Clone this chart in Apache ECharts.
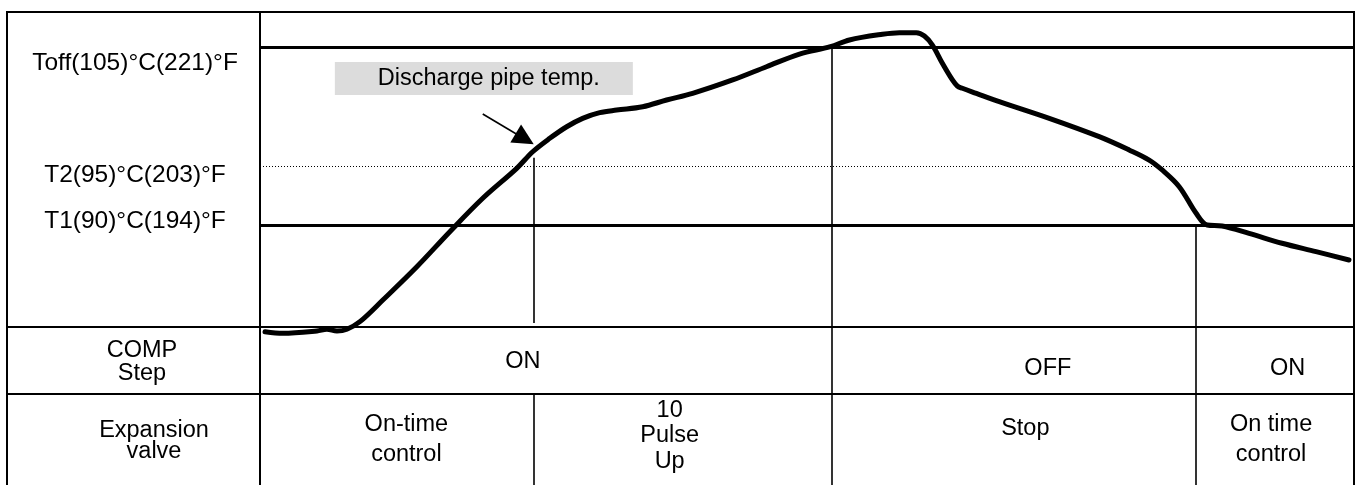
<!DOCTYPE html>
<html>
<head>
<meta charset="utf-8">
<script src="https://cdn.jsdelivr.net/npm/echarts@6/dist/echarts.min.js"></script>
<style>
  html, body { margin: 0; padding: 0; background: #fff; }
  #chart { width: 1358px; height: 485px; }
</style>
</head>
<body>
<div id="chart"></div>
<script>
  // time runs 0..100 (schematic units), temperature in °C
  const curveTime = [0.46, 2.1, 5.21, 6.12, 7.04, 7.95, 9.14, 11.24, 14.35, 17.37,
    20.38, 23.49, 24.95, 26.51, 28.06, 29.52, 31.08, 32.63, 35.01, 37.2,
    39.58, 43.24, 46.34, 49.36, 52.19, 53.93, 56.95, 58.5, 60.05, 60.79,
    61.52, 62.43, 63.35, 63.8, 64.26, 65.54, 67.64, 72.21, 76.78, 79.52,
    81.35, 82.54, 84.1, 85.65, 86.66, 88.03, 90.49, 93.51, 96.62, 99.63];
  const curveTemp = [81.0, 80.87, 81.06, 81.21, 81.06, 81.21, 81.85, 83.68, 86.49, 89.45,
    92.27, 94.8, 96.2, 97.33, 98.31, 99.02, 99.5, 99.72, 100.0, 100.57,
    101.13, 102.26, 103.38, 104.45, 105.07, 105.64, 106.12, 106.25, 106.25, 105.97,
    105.21, 103.67, 102.26, 101.75, 101.56, 101.13, 100.43, 99.02, 97.47, 96.35,
    95.5, 94.66, 93.25, 91.0, 90.01, 89.93, 89.31, 88.47, 87.76, 87.06];

  // thresholds
  const thresholdValues = [105, 95, 90];
  const thresholdLabels = ['Toff(105)°C(221)°F', 'T2(95)°C(203)°F', 'T1(90)°C(194)°F'];

  // event times: T2 reached, Toff reached, T1 reached
  const eventTimes = [25.05, 52.29, 85.65];
  const pulseLineTop = 95.7;

  // table rows
  const rowNames = ['COMP\nStep', 'Expansion\nvalve'];
  const compSegments = [[0, 52.29, 'ON'], [52.29, 85.65, 'OFF'], [85.65, 100, 'ON']];
  const valveSegments = [[0, 25.05, 'On-time\ncontrol'], [25.05, 52.29, '10\nPulse\nUp'],
    [52.29, 85.65, 'Stop'], [85.65, 100, 'On time\ncontrol']];

  // annotation
  const noteText = 'Discharge pipe temp.';
  const notePoint = [20.48, 102.38];
  const arrowFrom = [20.38, 99.39];
  const arrowTo = [24.22, 97.28];

  // ---- layout / style ----
  const FONT = '"Liberation Sans", Arial, Helvetica, sans-serif';
  const FS = 23.5;
  const L = 7, T = 12, R = 1354, AX = 260;
  const ROW1 = 327, ROW2 = 394;
  const labelShift = [16, 9, -3.5];
  const compNudge = [[-23, 1], [34, 8], [13, 8]];
  const compLH = [22, 22, 22];
  const valveNudge = [[9.5, 0.5], [-13, -3.5], [11.5, -11], [-3.5, 0.5]];
  const valveLH = [30, 25.5, 22, 30];

  const curve = curveTime.map((t, i) => [t, curveTemp[i]]);

  const rich = {};
  labelShift.forEach((d, i) => {
    rich['s' + i] = {
      fontFamily: FONT, fontSize: 24.5, color: '#000',
      padding: d >= 0 ? [2 * d, 0, 0, 0] : [0, 0, -2 * d, 0]
    };
  });

  // text cells of the table, one scatter point at each segment middle
  function cellSeries(idx, segs, nudge, lh, seps) {
    return {
      type: 'scatter', xAxisIndex: idx, yAxisIndex: idx,
      symbolSize: 0, silent: true, itemStyle: {opacity: 1},
      data: segs.map((s, i) => ({
        value: [(s[0] + s[1]) / 2, 0],
        label: {
          show: true, position: 'inside', formatter: s[2], offset: nudge[i],
          color: '#000', fontFamily: FONT, fontSize: FS, lineHeight: lh[i], align: 'center'
        }
      })),
      markLine: {
        silent: true, symbol: ['none', 'none'], label: {show: false},
        lineStyle: {color: '#000', width: 1.6, type: 'solid'},
        data: seps.map(t => ({xAxis: t}))
      }
    };
  }

  const rowAxis = (idx) => ({
    type: 'value', gridIndex: idx, min: -1, max: 1,
    axisLine: {show: true, lineStyle: {color: '#000', width: 2}},
    axisTick: {show: false}, splitLine: {show: false}, axisLabel: {show: false}
  });

  const chart = echarts.init(document.getElementById('chart'));
  chart.setOption({
    animation: false,
    backgroundColor: '#fff',
    grid: [
      {left: AX, top: T, width: R - 1 - AX, height: ROW1 - T},
      {left: AX, top: ROW1, width: R - 1 - AX, height: ROW2 - ROW1},
      {left: AX, top: ROW2, width: R - 1 - AX, height: 485 - ROW2}
    ],
    xAxis: [0, 1, 2].map(i => ({type: 'value', gridIndex: i, min: 0, max: 100, show: false})),
    yAxis: [
      {
        type: 'value', gridIndex: 0, min: 81.4, max: 108,
        axisLine: {show: true, lineStyle: {color: '#000', width: 2}},
        axisTick: {show: false}, splitLine: {show: false},
        axisLabel: {
          customValues: thresholdValues, margin: 125, align: 'center',
          color: '#000', fontFamily: FONT, fontSize: 24.5, rich: rich,
          formatter: function (v) {
            const i = thresholdValues.indexOf(v);
            return i < 0 ? '' : '{s' + i + '|' + thresholdLabels[i] + '}';
          }
        }
      },
      rowAxis(1),
      rowAxis(2)
    ],
    graphic: [
      {type: 'polyline', silent: true, shape: {points: [[L, 490], [L, T], [R, T], [R, 490]]},
        style: {stroke: '#000', lineWidth: 2, fill: null}},
      {type: 'line', silent: true, shape: {x1: L, y1: ROW1, x2: R, y2: ROW1}, style: {stroke: '#000', lineWidth: 2}},
      {type: 'line', silent: true, shape: {x1: L, y1: ROW2, x2: R, y2: ROW2}, style: {stroke: '#000', lineWidth: 2}},
      // row headings, centred in the left column
      {type: 'text', silent: true, x: 142, y: (ROW1 + ROW2) / 2 + 1.5,
        style: {text: rowNames[0], fill: '#000', fontFamily: FONT, fontSize: FS, lineHeight: 22.5,
          align: 'center', verticalAlign: 'middle'}},
      {type: 'text', silent: true, x: 154, y: (ROW2 + 485) / 2 + 1.5,
        style: {text: rowNames[1], fill: '#000', fontFamily: FONT, fontSize: FS, lineHeight: 21.5,
          align: 'center', verticalAlign: 'middle'}}
    ],
    series: [
      {
        type: 'line', xAxisIndex: 0, yAxisIndex: 0, data: curve,
        showSymbol: false, smooth: 0.35, clip: false, z: 5,
        lineStyle: {color: '#000', width: 5, cap: 'round', join: 'round'},
        markLine: {
          silent: true, symbol: ['none', 'none'], label: {show: false},
          lineStyle: {color: '#000', width: 1.6, type: 'solid'},
          data: [
            {yAxis: thresholdValues[0], lineStyle: {color: '#000', width: 2.8, type: 'solid'}},
            {yAxis: thresholdValues[1], lineStyle: {color: '#000', width: 1, type: [1, 2]}},
            {yAxis: thresholdValues[2], lineStyle: {color: '#000', width: 2.8, type: 'solid'}},
            [{coord: [eventTimes[0], pulseLineTop]}, {coord: [eventTimes[0], 81.74]}],
            [{coord: [eventTimes[1], thresholdValues[0]]}, {coord: [eventTimes[1], 81.4]}],
            [{coord: [eventTimes[2], thresholdValues[2]]}, {coord: [eventTimes[2], 81.4]}],
            [{coord: arrowFrom, symbol: 'none'},
             {coord: arrowTo, symbol: 'triangle', symbolSize: [21, 21]}]
          ]
        },
        markPoint: {
          silent: true,
          data: [{
            coord: notePoint, symbol: 'rect', symbolSize: [298, 33],
            itemStyle: {color: '#dcdcdc'},
            label: {show: true, position: 'inside', formatter: noteText, color: '#000',
              fontFamily: FONT, fontSize: FS, offset: [5, 0]}
          }]
        }
      },
      cellSeries(1, compSegments, compNudge, compLH, eventTimes.slice(1)),
      cellSeries(2, valveSegments, valveNudge, valveLH, eventTimes)
    ]
  });
</script>
</body>
</html>
